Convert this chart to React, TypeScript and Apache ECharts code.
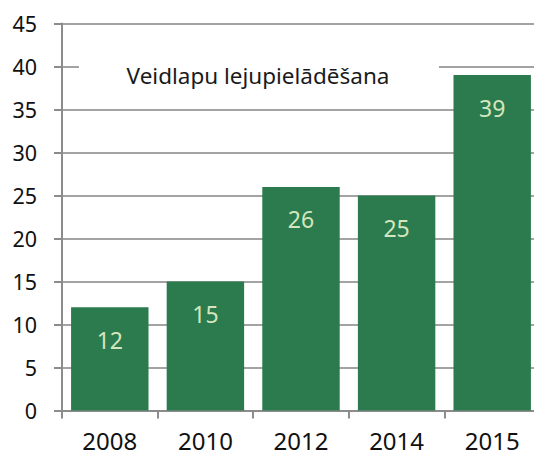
import React, { useEffect, useRef } from "react";
import * as echarts from "echarts";

const categories = ["2008", "2010", "2012", "2014", "2015"];
const values = [12, 15, 26, 25, 39];
const yMin = 0;
const yMax = 45;
const yInterval = 5;
const titleText = "Veidlapu lejupielādēšana";

export default function App() {
  const ref = useRef<HTMLDivElement>(null);
  useEffect(() => {
    if (!ref.current) return;
    const chart = echarts.init(ref.current, undefined, { renderer: "svg" });
    const font = "'Noto Sans', sans-serif";
    chart.setOption({
      animation: false,
      backgroundColor: "#ffffff",
      grid: { left: 62, top: 23.5, height: 387, width: 478, containLabel: false },
      graphic: [
        {
          type: "rect",
          z: 100,
          shape: { x: 79, y: 58, width: 360, height: 36 },
          style: { fill: "#ffffff" },
        },
        {
          type: "text",
          z: 101,
          x: 258,
          y: 75,
          style: {
            text: titleText,
            fontFamily: font,
            fontSize: 22.5,
            fill: "#1a1a1a",
            align: "center",
            verticalAlign: "middle",
          },
        },
      ],
      xAxis: {
        type: "category",
        data: categories,
        boundaryGap: true,
        axisLine: { show: true, lineStyle: { color: "#8c8c8c", width: 2 } },
        axisTick: { show: true, length: 8, lineStyle: { color: "#8c8c8c", width: 2 } },
        axisLabel: { color: "#111", fontSize: 24, lineHeight: 24, fontFamily: font, margin: 18 },
        splitLine: { show: false },
      },
      yAxis: {
        type: "value",
        min: yMin,
        max: yMax,
        interval: yInterval,
        axisLine: { show: true, lineStyle: { color: "#8c8c8c", width: 2 } },
        axisTick: { show: true, length: 8, lineStyle: { color: "#8c8c8c", width: 2 } },
        axisLabel: { color: "#111", fontSize: 21.5, fontFamily: font, margin: 25 },
        splitLine: { show: true, lineStyle: { color: "#a3a3a3", width: 2 } },
      },
      series: [
        {
          type: "bar",
          data: values,
          barCategoryGap: "19%",
          itemStyle: { color: "#2b7b4e" },
          label: {
            show: true,
            position: "insideTop",
            distance: 21,
            color: "#d4e6bd",
            fontSize: 23,
            fontFamily: font,
          },
        },
      ],
    });
    return () => chart.dispose();
  }, []);
  return (
    <div style={{ position: "fixed", left: 0, top: 0, width: 534, height: 459, overflow: "hidden" }}>
      <div ref={ref} style={{ width: 545, height: 459 }} />
    </div>
  );
}
